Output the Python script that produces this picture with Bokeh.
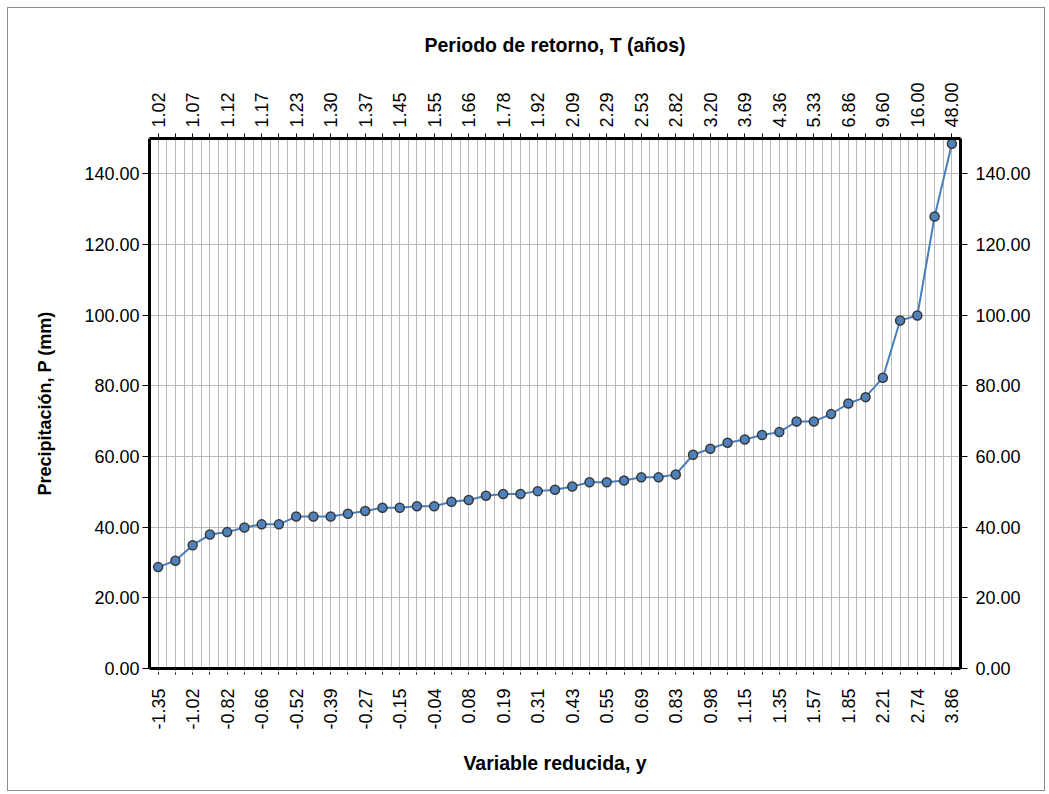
import numpy as np
from bokeh.plotting import figure
from bokeh.models import Range1d, LinearAxis, FixedTicker, PrintfTickFormatter
from bokeh.embed import file_html
from bokeh.resources import INLINE

# Precipitation (mm), ordered ascending, one value per category
precip = [28.7, 30.5, 34.9, 37.9, 38.6, 39.9, 40.8, 40.8, 43.0, 43.0,
          43.0, 43.8, 44.6, 45.5, 45.5, 45.9, 45.9, 47.2, 47.7, 48.9,
          49.4, 49.4, 50.2, 50.6, 51.5, 52.7, 52.7, 53.2, 54.1, 54.1,
          54.9, 60.5, 62.2, 63.9, 64.8, 66.1, 66.9, 69.9, 69.9, 72.0,
          75.0, 76.8, 82.3, 98.5, 99.9, 127.9, 148.5]

# labels shown on every other category
y_labels = ["-1.35", "-1.02", "-0.82", "-0.66", "-0.52", "-0.39", "-0.27", "-0.15",
            "-0.04", "0.08", "0.19", "0.31", "0.43", "0.55", "0.69", "0.83",
            "0.98", "1.15", "1.35", "1.57", "1.85", "2.21", "2.74", "3.86"]
t_labels = ["1.02", "1.07", "1.12", "1.17", "1.23", "1.30", "1.37", "1.45",
            "1.55", "1.66", "1.78", "1.92", "2.09", "2.29", "2.53", "2.82",
            "3.20", "3.69", "4.36", "5.33", "6.86", "9.60", "16.00", "48.00"]
y_ticks = [0, 20, 40, 60, 80, 100, 120, 140]

n = len(precip)
cat = list(range(1, n + 1))
labelled = cat[::2]

bottom_over = {c: "" for c in cat}
top_over = {c: "" for c in cat}
for k, c in enumerate(labelled):
    bottom_over[c] = y_labels[k]
    top_over[c] = t_labels[k]

FONT = "Liberation Sans"
TICK_SIZE = "18px"
TITLE_SIZE = "18px"
XTITLE_SIZE = "19.5px"

p = figure(width=1038, height=784, output_backend="svg", toolbar_location=None,
           x_range=Range1d(0.5, n + 0.5), y_range=Range1d(0, 150),
           min_border_left=141, min_border_right=86,
           min_border_top=130, min_border_bottom=124,
           background_fill_color="white", border_fill_color="white")
p.outline_line_color = None

grid_ticks = [0.5 * k for k in range(2, 2 * n + 1)]
p.xgrid.ticker = FixedTicker(ticks=grid_ticks)
p.xgrid.grid_line_color = "#bababa"
p.xgrid.grid_line_width = 1
p.ygrid.ticker = FixedTicker(ticks=y_ticks[1:])
p.ygrid.grid_line_color = "#bababa"
p.ygrid.grid_line_width = 1


def style_axis(ax):
    ax.axis_line_color = "black"
    ax.axis_line_width = 3
    ax.major_tick_line_color = "black"
    ax.major_tick_line_width = 1
    ax.major_tick_in = 0
    ax.minor_tick_line_color = None
    ax.major_label_text_font = FONT
    ax.major_label_text_font_size = TICK_SIZE
    ax.major_label_text_color = "black"
    ax.axis_label_text_font = FONT
    ax.axis_label_text_font_size = TITLE_SIZE
    ax.axis_label_text_font_style = "bold"
    ax.axis_label_text_color = "black"


# bottom axis
xb = p.xaxis[0]
style_axis(xb)
xb.ticker = FixedTicker(ticks=cat)
xb.major_label_overrides = bottom_over
xb.major_label_orientation = np.pi / 2
xb.major_tick_out = 6
xb.major_tick_line_dash = "2 2"
xb.major_label_standoff = 14
xb.axis_label = "Variable reducida, y"
xb.axis_label_text_font_size = XTITLE_SIZE
xb.axis_label_standoff = 19

# top axis
xt = LinearAxis(ticker=FixedTicker(ticks=cat))
style_axis(xt)
xt.major_label_overrides = top_over
xt.major_label_orientation = np.pi / 2
xt.major_tick_out = 5
xt.major_label_standoff = 6
xt.axis_label = "Periodo de retorno, T (años)"
xt.axis_label_text_font_size = XTITLE_SIZE
xt.axis_label_standoff = 23
p.add_layout(xt, "above")

# left axis
yl = p.yaxis[0]
style_axis(yl)
yl.ticker = FixedTicker(ticks=y_ticks)
yl.formatter = PrintfTickFormatter(format="%.2f")
yl.major_tick_out = 7
yl.major_label_standoff = 3
yl.axis_label = "Precipitación, P (mm)"
yl.axis_label_standoff = 26

# right axis
yr = LinearAxis(ticker=FixedTicker(ticks=y_ticks), formatter=PrintfTickFormatter(format="%.2f"))
style_axis(yr)
yr.major_tick_out = 7
yr.major_label_standoff = 8
p.add_layout(yr, "right")

p.line(cat, precip, line_color="#4a7ebb", line_width=2)
p.scatter(cat, precip, size=9, fill_color="#4f81bd", line_color="#383838", line_width=1.5)

p.styles = {"border": "1px solid #8c8c8c", "margin-left": "7px", "margin-top": "7px"}

open("out.html", "w").write(file_html(p, INLINE))
